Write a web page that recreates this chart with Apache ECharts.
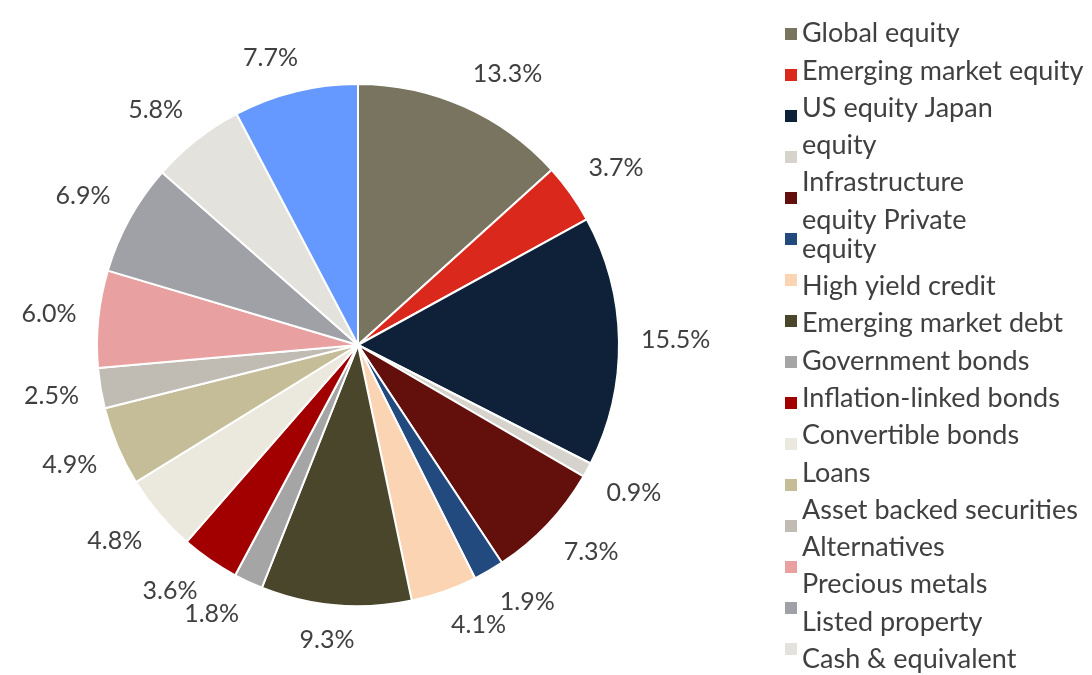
<!DOCTYPE html>
<html>
<head>
<meta charset="utf-8">
<script src="https://cdn.jsdelivr.net/npm/echarts@6/dist/echarts.min.js"></script>
<style>
  html, body { margin: 0; padding: 0; background: #fff; }
  #chart { width: 1092px; height: 675px; }
</style>
</head>
<body>
<div id="chart"></div>
<script>
// legend texts exactly as they appear in the picture
const names = [
  'Global equity', 'Emerging market equity', 'US equity Japan', 'equity',
  'Infrastructure', 'equity Private\nequity', 'High yield credit',
  'Emerging market debt', 'Government bonds', 'Inflation-linked bonds',
  'Convertible bonds', 'Loans', 'Asset backed securities', 'Alternatives',
  'Precious metals', 'Listed property', 'Cash & equivalent'
];
const shares = [13.3, 3.7, 15.5, 0.9, 7.3, 1.9, 4.1, 9.3, 1.8, 3.6, 4.8, 4.9, 2.5, 6.0, 6.9, 5.8, 7.7];
const colors = [
  '#787460', '#da291c', '#0e2139', '#d6d3cc', '#63100c', '#224a7e', '#fbd4b4',
  '#4a462c', '#a5a5a5', '#a20000', '#ebe8dd', '#c4bd97', '#c0bbb3', '#e8a0a0',
  '#a0a1a6', '#e3e2dd', '#6699ff'
];

const cx = 358, cy = 345, R = 261;
const total = shares.reduce((a, b) => a + b, 0);
// mid angle of each slice (clockwise from 12 o'clock)
const mids = [];
let acc = 0;
shares.forEach(v => { mids.push((acc + v / 2) / total * Math.PI * 2); acc += v; });

const font = 'Lato, "Noto Sans", sans-serif';
const chart = echarts.init(document.getElementById('chart'));

chart.setOption({
  backgroundColor: '#fff',
  animation: false,
  color: colors,
  legend: [
    {
      // markers only
      orient: 'vertical', left: 778, top: 21, height: 760,
      icon: 'rect', itemWidth: 14, itemHeight: 14, itemGap: 25,
      formatter: () => '',
      textStyle: { fontSize: 1, lineHeight: 1 },
      data: names
    },
    {
      // texts only
      orient: 'vertical', left: 792, top: 14, height: 760,
      icon: 'none', itemWidth: 0, itemHeight: 0, itemGap: 8.3,
      textStyle: { fontFamily: font, fontSize: 27, lineHeight: 29, color: '#404040' },
      data: names
    }
  ],
  series: [{
    type: 'pie',
    center: [cx, cy],
    radius: [0, R],
    startAngle: 90,
    clockwise: true,
    avoidLabelOverlap: false,
    itemStyle: { borderColor: '#fff', borderWidth: 2 },
    label: {
      show: true,
      position: 'outside',
      formatter: p => p.value.toFixed(1) + '%',
      fontFamily: font,
      fontSize: 25,
      color: '#404040'
    },
    labelLine: { show: false, length: 0, length2: 0 },
    labelLayout: params => {
      const t = mids[params.dataIndex];
      const s = Math.sin(t), c = Math.cos(t);
      const w = params.labelRect.width, h = params.labelRect.height;
      const d = R + 22;
      const ox = w / 2 * Math.max(-1, Math.min(1, s * 3));
      const oy = -h / 2 * Math.max(-1, Math.min(1, c * 2));
      return {
        x: cx + d * s + ox,
        y: cy - d * c + oy,
        align: 'center',
        verticalAlign: 'middle'
      };
    },
    data: names.map((n, i) => ({ name: n, value: shares[i] }))
  }]
});
</script>
</body>
</html>
